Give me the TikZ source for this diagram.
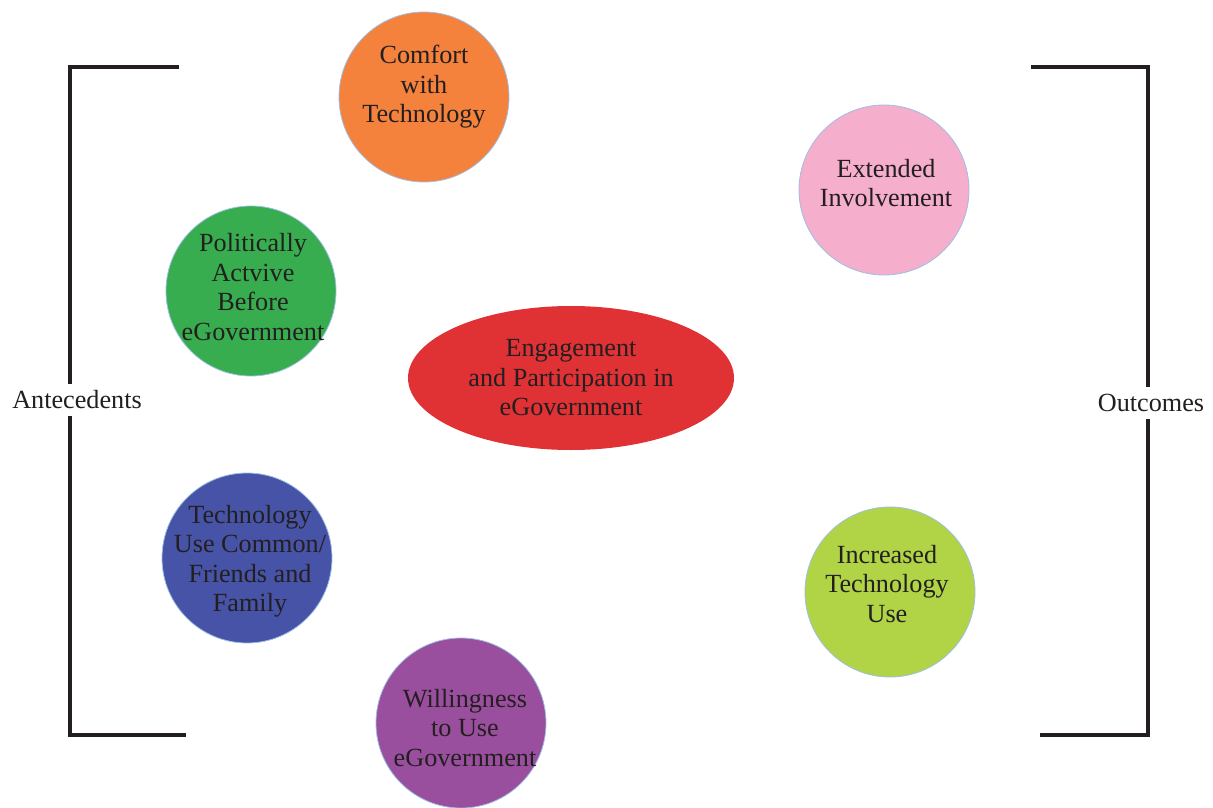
\documentclass[tikz,border=0pt]{standalone}
\usepackage{fontspec}
\usetikzlibrary{shapes.geometric}
\setmainfont{Liberation Serif}
\definecolor{corange}{HTML}{F4823C}
\definecolor{cgreen}{HTML}{37AD4F}
\definecolor{cblue}{HTML}{4653A6}
\definecolor{cpurple}{HTML}{9A4E9E}
\definecolor{cpink}{HTML}{F5AECB}
\definecolor{clime}{HTML}{B0D445}
\definecolor{cred}{HTML}{E03135}
\definecolor{cedge}{HTML}{9DBFE3}
\definecolor{ctext}{HTML}{231F20}
\tikzset{
  bubble/.style={circle, draw=cedge, line width=0.8pt, minimum size=170pt, inner sep=0pt},
  txt/.style={align=center, text=ctext, font=\fontsize{26.2pt}{29.5pt}\selectfont, inner sep=0pt},
  brk/.style={line width=4pt, draw=ctext},
  side/.style={text=ctext, font=\fontsize{26.2pt}{29.5pt}\selectfont, fill=white, inner sep=0pt, minimum height=32pt}
}
\begin{document}
\begin{tikzpicture}[x=1pt,y=-1pt]
\useasboundingbox (0,0) rectangle (1213,808);
% brackets
\draw[brk] (179,67) -- (70,67) -- (70,735) -- (186,735);
\draw[brk] (1031,67) -- (1148,67) -- (1148,735) -- (1040,735);
\node[side] (ante) at (77,400) {Antecedents};
\node[side] (outc) at (1151,403) {Outcomes};
% bubbles
\node[bubble, fill=corange] (comfort) at (424,97) {};
\node[txt] (tcomfort) at (424,87) {Comfort\\with\\Technology};
\node[bubble, fill=cgreen] (polit) at (251,291) {};
\node[txt] (tpolit) at (253,287) {Politically\\Actvive\\Before\\eGovernment};
\node[bubble, fill=cblue] (techuse) at (247,558) {};
\node[txt] (ttechuse) at (250,561) {Technology\\Use Common/\\Friends and\\Family};
\node[bubble, fill=cpurple] (will) at (461,723) {};
\node[txt] (twill) at (465,728) {Willingness\\to Use\\eGovernment};
\node[bubble, fill=cpink] (ext) at (884,190) {};
\node[txt] (text) at (886,183) {Extended\\Involvement};
\node[bubble, fill=clime] (incr) at (890,592) {};
\node[txt] (tincr) at (887,584) {Increased\\Technology\\Use};
\node[ellipse, draw=none, fill=cred, minimum width=326pt, minimum height=144pt, inner sep=0pt] (eng) at (571,378) {};
\node[txt] (teng) at (571,378) {Engagement\\and Participation in\\eGovernment};
\end{tikzpicture}
\end{document}
